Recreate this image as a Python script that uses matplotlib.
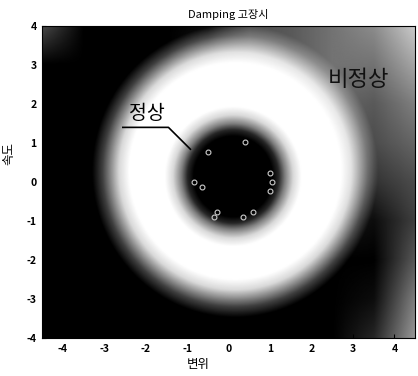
import numpy as np
import matplotlib.pyplot as plt

plt.rcParams['font.family'] = ['Noto Sans CJK KR', 'DejaVu Sans']
plt.rcParams['axes.unicode_minus'] = False

# 축 범위
x_range = (-4.5, 4.5)
y_range = (-4.0, 4.0)
x_ticks = [-4, -3, -2, -1, 0, 1, 2, 3, 4]
y_ticks = [-4, -3, -2, -1, 0, 1, 2, 3, 4]

# 세로 방향 거리 보정 (그림에서 원이 세로로 약간 길다)
y_squash = 0.92

# 안쪽 어두운 원 (정상 영역) - 중심에서의 거리별 밝기
inner_center = (0.1, 0.13)
inner_r = [0.0, 0.95, 1.1, 1.25, 1.45, 1.65, 9.0]
inner_v = [0.0, 0.0, 0.15, 0.5, 0.85, 1.0, 1.0]

# 흰 고리 바깥 경계 - 거리별 가중치
outer_center = (0.15, 0.27)
outer_r = [0.0, 2.55, 2.8, 3.0, 3.2, 3.45, 9.0]
outer_w = [1.0, 1.0, 0.85, 0.55, 0.25, 0.0, 0.0]

# 고리 바깥 배경 밝기 (비정상 영역)
bg_x = [-4.5, -3.5, -2.5, -1.5, -0.5, 0.5, 1.5, 2.5, 3.5, 4.5]
bg_y = [4, 3, 2, 1, 0, -1, -2, -3, -4]
bg_v = [
    [0.3, 0.0, 0.0, 0.0, 0.05, 0.3, 0.35, 0.45, 0.55, 0.8],
    [0.0, 0.0, 0.0, 0.0, 0.1, 0.3, 0.35, 0.45, 0.45, 0.65],
    [0.0, 0.0, 0.0, 0.0, 0.1, 0.3, 0.35, 0.4, 0.35, 0.5],
    [0.0, 0.0, 0.0, 0.0, 0.0, 0.2, 0.3, 0.35, 0.3, 0.4],
    [0.0, 0.0, 0.0, 0.0, 0.0, 0.1, 0.2, 0.25, 0.2, 0.3],
    [0.0, 0.0, 0.0, 0.0, 0.0, 0.0, 0.05, 0.1, 0.05, 0.25],
    [0.0, 0.0, 0.0, 0.0, 0.0, 0.0, 0.0, 0.0, 0.0, 0.35],
    [0.0, 0.0, 0.0, 0.0, 0.0, 0.0, 0.0, 0.0, 0.05, 0.5],
    [0.0, 0.0, 0.0, 0.0, 0.0, 0.0, 0.0, 0.0, 0.15, 0.6],
]

# 정상 데이터 점
pts_x = [-0.5, 0.39, 1.0, 1.06, 0.99, -0.84, -0.63, -0.27, -0.36, 0.34, 0.58]
pts_y = [0.78, 1.02, 0.24, 0.01, -0.24, -0.01, -0.12, -0.76, -0.91, -0.91, -0.76]

# 라벨 위치
normal_text = (-1.98, 1.76)
normal_line_x = [-2.55, -1.45, -0.92]
normal_line_y = [1.40, 1.40, 0.84]
abnormal_text = (3.13, 2.62)


def bilinear(gx, gy):
    xs = np.array(bg_x)
    ys = np.array(bg_y[::-1], dtype=float)
    v = np.array(bg_v)[::-1]
    rows = np.array([np.interp(gx, xs, row) for row in v])
    return np.array([np.interp(gy, ys, rows[:, j]) for j in range(len(gx))]).T


gx = np.linspace(x_range[0], x_range[1], 400)
gy = np.linspace(y_range[0], y_range[1], 360)
X, Y = np.meshgrid(gx, gy)
r1 = np.hypot(X - inner_center[0], (Y - inner_center[1]) * y_squash)
r2 = np.hypot(X - outer_center[0], (Y - outer_center[1]) * y_squash)
ring = np.interp(r1, inner_r, inner_v)
w = np.interp(r2, outer_r, outer_w)
field = w * ring + (1 - w) * bilinear(gx, gy)

fig = plt.figure(figsize=(4.18, 3.76), dpi=100)
ax = fig.add_axes([0.1005, 0.101, 0.8925, 0.83])
ax.imshow(field, cmap='gray', vmin=0, vmax=1, origin='lower',
          extent=(x_range[0], x_range[1], y_range[0], y_range[1]),
          aspect='auto', interpolation='bilinear')
ax.plot(pts_x, pts_y, 'o', mfc='none', mec='#cccccc', ms=3.5, mew=0.8)

ax.text(normal_text[0], normal_text[1], '정상', fontsize=14, ha='center', va='center', color='black')
ax.plot(normal_line_x, normal_line_y, color='black', lw=1.2)
ax.text(abnormal_text[0], abnormal_text[1], '비정상', fontsize=16, ha='center', va='center', color='#111111')

ax.set_xlim(x_range)
ax.set_ylim(y_range)
ax.set_xticks(x_ticks)
ax.set_yticks(y_ticks)
ax.tick_params(direction='in', length=3, labelsize=7.5, colors='black', pad=4)
for lab in ax.get_xticklabels() + ax.get_yticklabels():
    lab.set_fontweight('bold')

ax.set_title('Damping 고장시', fontsize=8, pad=6)
ax.set_xlabel('변위', fontsize=9)
ax.set_ylabel('속도', fontsize=9)
ax.xaxis.set_label_coords(0.42, -0.065)
ax.yaxis.set_label_coords(-0.072, 0.59)

fig.savefig('out.png', dpi=100)
